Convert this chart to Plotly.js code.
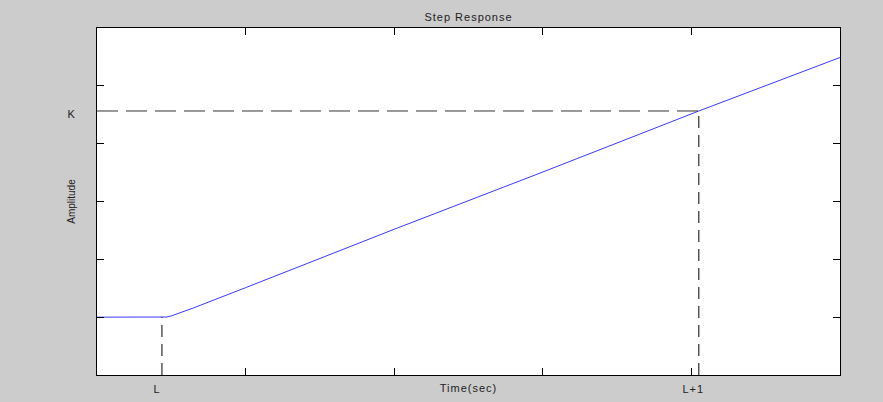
<!DOCTYPE html>
<html>
<head>
<meta charset="utf-8">
<script src="https://cdn.plot.ly/plotly-3.0.1.min.js"></script>
<style>
html,body{margin:0;padding:0;background:#cccccc;}
#chart{width:883px;height:402px;}
#chart svg text{letter-spacing:1px;}
#chart svg text.ytitle{letter-spacing:0;}
</style>
</head>
<body>
<div id="chart"></div>
<script>
// Step response values
const time = [0, 0.437, 0.47, 0.5, 0.56, 0.65, 1.0, 2.0, 3.0, 4.05, 5.0];
const amplitude = [1.0, 1.0, 1.003, 1.022, 1.075, 1.16, 1.51, 2.52, 3.51, 4.565, 5.49];

// Marked points
const L = 0.437;
const L1 = 4.05;
const K = 4.565;
const yBase = 1.0;

const xMarkLabels = ['L', 'L+1'];
const xMarkPos = [L, L1];
const yMarkLabels = ['K'];
const yMarkPos = [K];

const xTicks = [1, 2, 3, 4];
const yTicks = [1, 2, 3, 4, 5];

const dashH = '21px,8px';
const dashV = '12px,7px';

const traces = [
  {x: time, y: amplitude, mode: 'lines', line: {color: '#3a3aff', width: 1}, hoverinfo: 'x+y'},
  {x: [0, L1], y: [K, K], mode: 'lines', line: {color: '#333', width: 1, dash: dashH}, hoverinfo: 'skip'},
  {x: [L, L], y: [0, yBase], mode: 'lines', line: {color: '#000', width: 1, dash: dashV}, hoverinfo: 'skip'},
  {x: [L1, L1], y: [0, K], mode: 'lines', line: {color: '#000', width: 1, dash: dashV}, hoverinfo: 'skip'}
];

const font = {family: 'Liberation Sans, Arial, sans-serif', size: 11, color: '#222'};

const annotations = [];
xMarkLabels.forEach((t, i) => {
  annotations.push({text: t, x: xMarkPos[i], xref: 'x', y: -0.04, yref: 'paper',
    xanchor: 'center', yanchor: 'middle', xshift: -5, showarrow: false, font: font});
});
yMarkLabels.forEach((t, i) => {
  annotations.push({text: t, x: -0.0336, xref: 'paper', y: yMarkPos[i], yref: 'y',
    xanchor: 'center', yanchor: 'middle', yshift: -3, showarrow: false, font: font});
});

const layout = {
  width: 883, height: 402,
  paper_bgcolor: '#cccccc', plot_bgcolor: '#ffffff',
  margin: {l: 97, r: 43, t: 28, b: 27, pad: 0},
  showlegend: false,
  font: font,
  title: {text: 'Step Response', font: font, x: 0.5, xref: 'paper', y: 1 - 17/402, yref: 'container', yanchor: 'middle'},
  xaxis: {
    range: [0, 5], tickvals: xTicks, ticktext: xTicks.map(() => ''),
    ticks: 'inside', ticklen: 7, tickcolor: '#000', tickwidth: 1,
    showline: true, linecolor: '#000', linewidth: 1, mirror: 'ticks',
    showgrid: false, zeroline: false, fixedrange: true,
    title: {text: 'Time(sec)', font: font, standoff: 7}
  },
  yaxis: {
    range: [0, 6], tickvals: yTicks, ticktext: yTicks.map(() => ''),
    ticks: 'inside', ticklen: 7, tickcolor: '#000', tickwidth: 1,
    showline: true, linecolor: '#000', linewidth: 1, mirror: 'ticks',
    showgrid: false, zeroline: false, fixedrange: true,
    title: {text: 'Amplitude', font: {family: font.family, size: 10, color: '#222'}, standoff: 16}
  },
  annotations: annotations
};

Plotly.newPlot('chart', traces, layout, {displayModeBar: false, staticPlot: true});
</script>
</body>
</html>
